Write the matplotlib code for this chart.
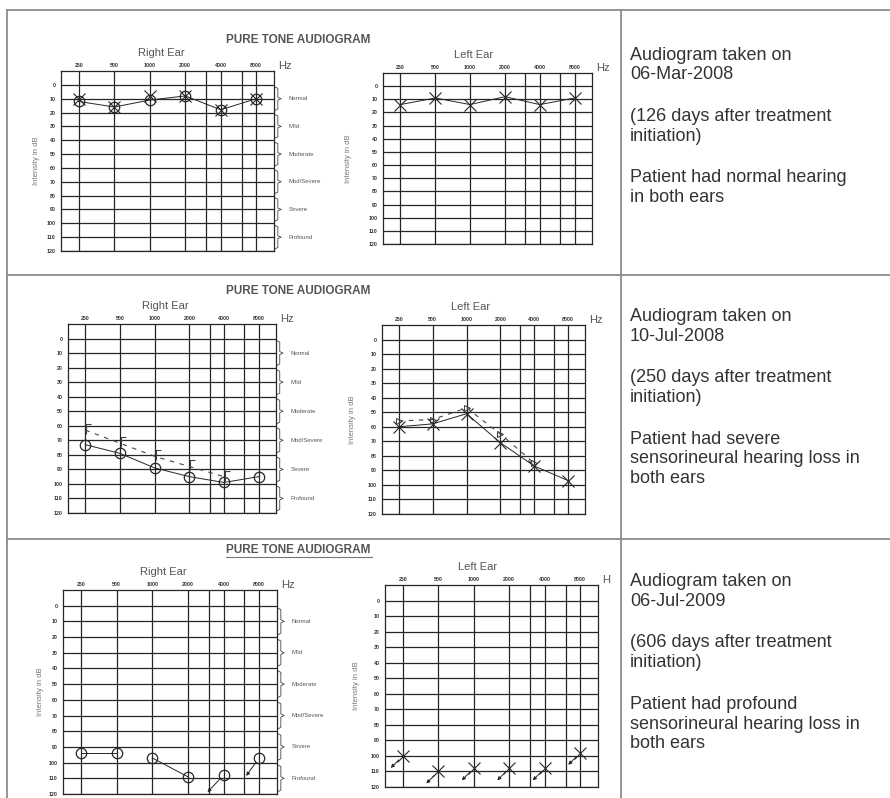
import matplotlib.pyplot as plt
from matplotlib.path import Path
from matplotlib.ticker import NullFormatter
from matplotlib.transforms import blended_transform_factory, offset_copy

plt.rcParams['font.family'] = ['Liberation Sans', 'DejaVu Sans']

# audiogram axes
freqs = [250, 500, 1000, 2000, 4000, 8000]
freq_labels = ['250', '500', '1000', '2000', '4000', '8000']
half_octaves = [3000, 6000]
db_ticks = [0, 10, 20, 30, 40, 50, 60, 70, 80, 90, 100, 110, 120]
bands = ['Normal', 'Mild', 'Moderate', 'Mod/Severe', 'Severe', 'Profound']
band_edges = [0, 20, 40, 60, 80, 100, 120]

# 06-Mar-2008
r1_right_air = [12, 16, 11, 8, 18, 10]
r1_right_x = [10, 16, 8, 8, 18, 10]
r1_left_air = [14, 9, 14, 8, 14, 9]
# 10-Jul-2008
r2_right_air = [73, 79, 89, 95, 99, 95]
r2_right_bone = [63, 72, 81, 88, 95]
r2_left_air = [60, 58, 51, 71, 87, 97]
r2_left_bone = [56, 55, 47, 65, 85]
# 06-Jul-2009 (no response at several frequencies)
r3_right_air = [94, 94, 97, 109, 108, 97]
r3_left_air = [100, 110, 108, 108, 108, 98]

dates = ['06-Mar-2008', '10-Jul-2008', '06-Jul-2009']
days = [126, 250, 606]
findings = [['Patient had normal hearing', 'in both ears'],
            ['Patient had severe', 'sensorineural hearing loss in', 'both ears'],
            ['Patient had profound', 'sensorineural hearing loss in', 'both ears']]

W, H = 890, 798
ink = '#262626'
grey = '#555555'

fig = plt.figure(figsize=(W / 100, H / 100), dpi=100)

# page / table in pixel coordinates
bg = fig.add_axes([0, 0, 1, 1])
bg.set_xlim(0, W)
bg.set_ylim(H, 0)
bg.axis('off')
line_kw = dict(color='#8c8c8c', lw=1.3)
bg.plot([7, W], [10, 10], **line_kw)
bg.plot([7, 7], [10, H], **line_kw)
bg.plot([621, 621], [10, H], **line_kw)
bg.plot([7, W], [275, 275], **line_kw)
bg.plot([7, W], [539, 539], **line_kw)

title_y = [40, 291, 550]
for y in title_y:
    bg.text(298, y, 'PURE TONE AUDIOGRAM', ha='center', va='center',
            fontsize=8.5, fontweight='bold', color=grey)
bg.plot([226, 372], [557, 557], color='#777777', lw=0.8)

first_base = [59.5, 321, 586]
for i in range(3):
    paras = [['Audiogram taken on', dates[i]],
             ['(%d days after treatment' % days[i], 'initiation)'],
             findings[i]]
    y = first_base[i]
    for p in paras:
        for ln in p:
            bg.text(630, y, ln, ha='left', va='baseline', fontsize=13, color='#333333')
            y += 19.7
        y += 22


def panel(box, ear, ylabel_off=None, hz='Hz'):
    x0, y0, x1, y1 = box
    ax = fig.add_axes([x0 / W, 1 - y1 / H, (x1 - x0) / W, (y1 - y0) / H])
    ax.set_xscale('log', base=2)
    ax.set_xlim(250 / 2 ** 0.5, 8000 * 2 ** 0.5)
    ax.set_ylim(120, -10)
    ax.set_xticks(freqs, freq_labels)
    ax.set_xticks(half_octaves, minor=True)
    ax.xaxis.set_minor_formatter(NullFormatter())
    ax.set_yticks(db_ticks, [str(v) for v in db_ticks])
    ax.xaxis.tick_top()
    ax.tick_params(axis='x', which='both', length=0, pad=2, labelsize=3.8, labelcolor='#333333')
    ax.tick_params(axis='y', length=0, pad=4, labelsize=3.8, labelcolor='#333333')
    for lbl in ax.get_xticklabels() + ax.get_yticklabels():
        lbl.set_fontweight('bold')
    ax.grid(True, which='both', color=ink, lw=0.9)
    ax.set_axisbelow(True)
    for s in ax.spines.values():
        s.set_color(ink)
        s.set_linewidth(0.9)
    ax.annotate('Right Ear' if ear == 'R' else 'Left Ear', xy=(0.47 if ear == 'R' else 0.435, 1),
                xycoords='axes fraction', xytext=(0, 13), textcoords='offset points',
                ha='center', va='center', fontsize=8, color=grey)
    ax.annotate(hz, xy=(1, 1), xycoords='axes fraction', xytext=(3, 3.5), textcoords='offset points',
                ha='left', va='center', fontsize=8, color=grey)
    if ylabel_off is not None:
        ax.annotate('Intensity in dB', xy=(0, 0.5), xycoords='axes fraction',
                    xytext=(-ylabel_off * 0.72, 0), textcoords='offset points',
                    rotation=90, ha='center', va='center', fontsize=5.5, color='#777777')
    if ear == 'R':
        tr = blended_transform_factory(ax.transAxes, ax.transData)
        for k, name in enumerate(bands):
            lo, hi = band_edges[k] + 1.5, band_edges[k + 1] - 1.5
            mid = (lo + hi) / 2
            ax.plot([1.004, 1.018, 1.018, 1.034, 1.018, 1.018, 1.004],
                    [lo, lo + 1, mid - 1, mid, mid + 1, hi - 1, hi],
                    transform=tr, clip_on=False, color='#444444', lw=0.6)
            ax.text(1.07, mid, name, transform=tr, ha='left', va='center',
                    fontsize=4.3, color='#555555')
    return ax


def no_response(ax, f, v, dx, dy):
    head = offset_copy(ax.transData, fig=fig, x=dx, y=dy, units='dots')
    ax.annotate('', xy=(f, v), xycoords=head, xytext=(f, v), textcoords='data',
                arrowprops=dict(arrowstyle='-|>', color=ink, lw=0.7, mutation_scale=5,
                                shrinkA=4, shrinkB=0),
                annotation_clip=False)


circ = dict(marker='o', ms=7.5, mfc='none', mec=ink, mew=0.9, ls='none')
cross = dict(marker='x', ms=8, mec=ink, mew=0.8, ls='none')
# masked bone-conduction bracket drawn as an open path marker
bracket = Path([(0.2, -0.6), (0.2, 1.0), (1.0, 1.0)], [Path.MOVETO, Path.LINETO, Path.LINETO])

# row 1
ax = panel((61, 71, 274, 251), 'R', ylabel_off=25)
ax.plot(freqs, r1_right_air, color=ink, lw=0.7)
ax.plot(freqs, r1_right_air, **circ)
ax.plot(freqs, r1_right_x, **cross)

ax = panel((383, 73, 592, 244), 'L', ylabel_off=35)
ax.plot(freqs, r1_left_air, color=ink, lw=0.7)
ax.plot(freqs, r1_left_air, **cross)

# row 2
ax = panel((68, 324, 276, 513), 'R')
ax.plot(freqs, r2_right_air, color=ink, lw=0.7)
ax.plot(freqs, r2_right_air, **circ)
ax.plot(freqs[:5], r2_right_bone, color='#444444', lw=0.8, ls=(0, (4, 5)),
        marker=bracket, ms=9, mfc='none', mec='#444444', mew=0.8)

ax = panel((382, 325, 585, 514), 'L', ylabel_off=30)
ax.plot(freqs, r2_left_air, color=ink, lw=0.7)
ax.plot(freqs, r2_left_air, **cross)
ax.plot(freqs[:5], r2_left_bone, color='#444444', lw=0.8, ls=(0, (4, 5)),
        marker='>', ms=5, mfc='none', mec='#444444', mew=0.8)

# row 3
ax = panel((63, 590, 277, 794), 'R', ylabel_off=23)
ax.plot(freqs[:2], r3_right_air[:2], color=ink, lw=0.7)
ax.plot(freqs[2:4], r3_right_air[2:4], color=ink, lw=0.7)
ax.plot(freqs, r3_right_air, **circ)
no_response(ax, freqs[4], r3_right_air[4], -16, -17)
no_response(ax, freqs[5], r3_right_air[5], -13, -18)

ax = panel((385, 585, 598, 787), 'L', ylabel_off=28, hz='H')
ax.plot(freqs, r3_left_air, **cross)
for f, v in zip(freqs, r3_left_air):
    no_response(ax, f, v, -12, -12)

fig.savefig('out.png', dpi=100, facecolor='white')
